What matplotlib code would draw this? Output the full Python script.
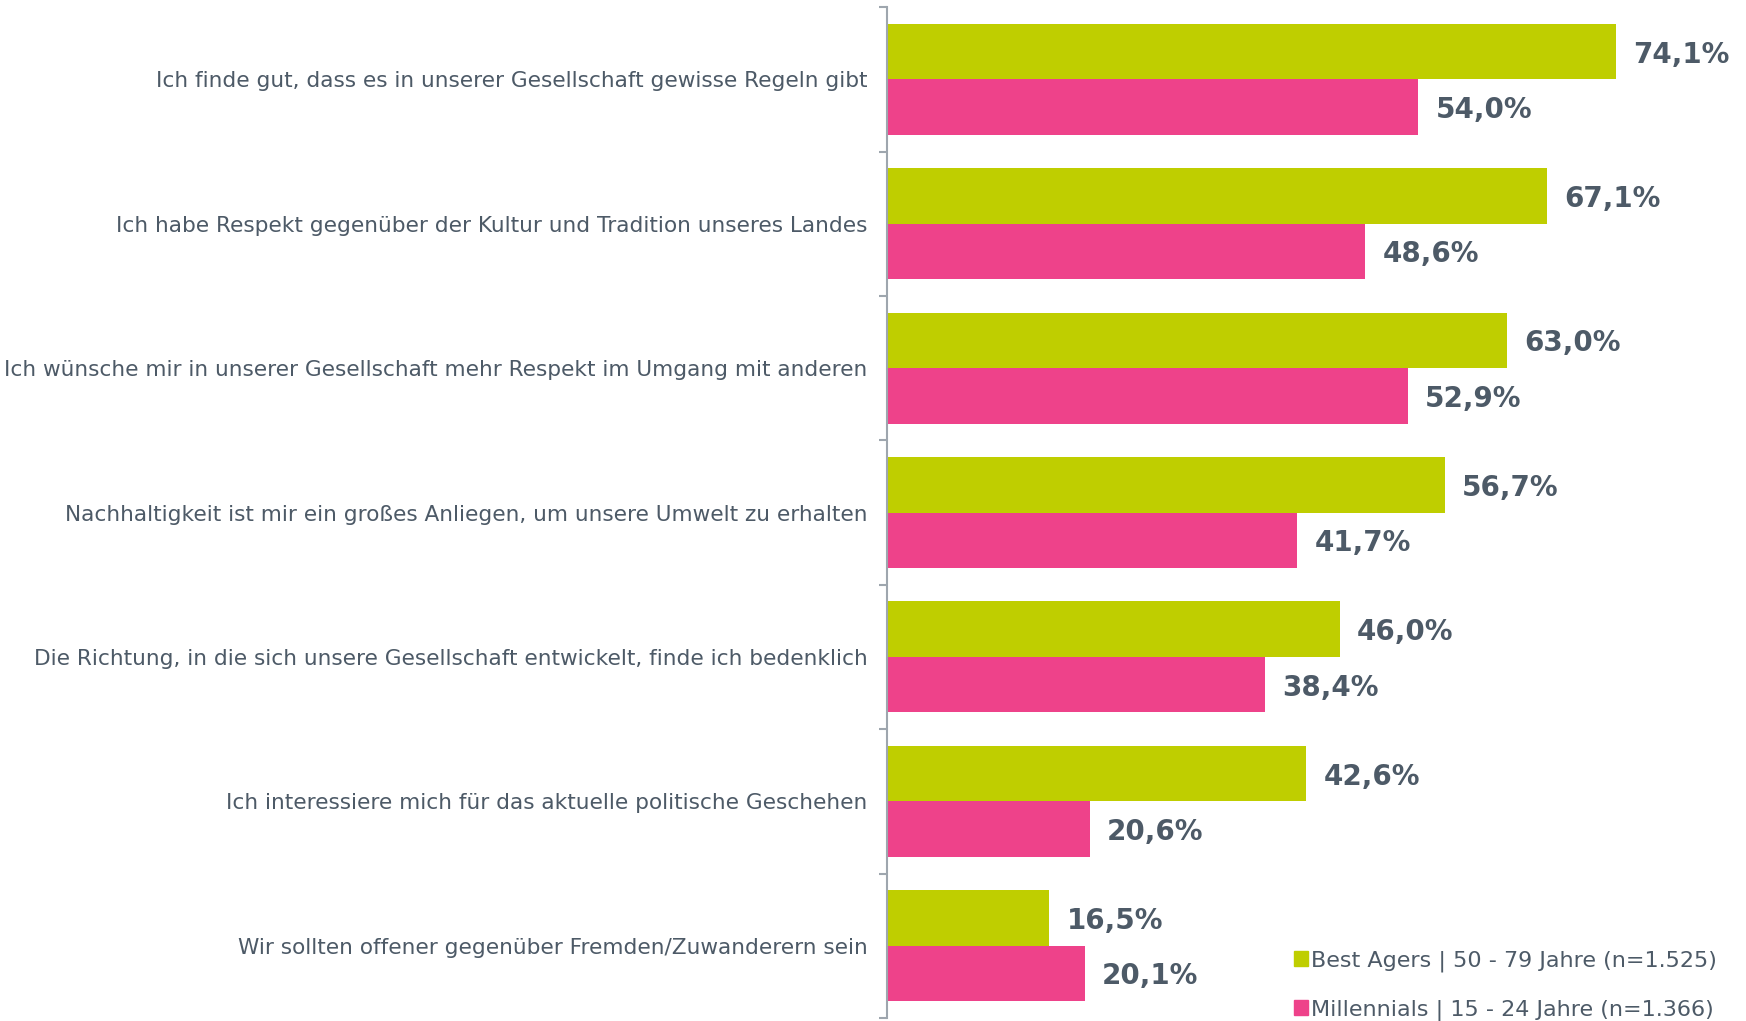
import numpy as np
import matplotlib
matplotlib.use("Agg")
import matplotlib.pyplot as plt
from matplotlib.patches import Patch

plt.rcParams['font.family'] = ['DejaVu Sans']

# Daten
kategorien = [
    "Ich finde gut, dass es in unserer Gesellschaft gewisse Regeln gibt",
    "Ich habe Respekt gegenüber der Kultur und Tradition unseres Landes",
    "Ich wünsche mir in unserer Gesellschaft mehr Respekt im Umgang mit anderen",
    "Nachhaltigkeit ist mir ein großes Anliegen, um unsere Umwelt zu erhalten",
    "Die Richtung, in die sich unsere Gesellschaft entwickelt, finde ich bedenklich",
    "Ich interessiere mich für das aktuelle politische Geschehen",
    "Wir sollten offener gegenüber Fremden/Zuwanderern sein",
]
best_agers = [74.1, 67.1, 63.0, 56.7, 46.0, 42.6, 16.5]
millennials = [54.0, 48.6, 52.9, 41.7, 38.4, 20.6, 20.1]
serien = ["Best Agers | 50 - 79 Jahre (n=1.525)",
          "Millennials | 15 - 24 Jahre (n=1.366)"]

GRUEN = "#bfce00"
PINK = "#ee428a"
TEXT = "#4d5a67"
ACHSE = "#9ea6ae"

fig = plt.figure(figsize=(17.46, 10.21), dpi=100)
ax = fig.add_axes([0.508, 0.003, 0.492, 0.990])

y = np.arange(len(kategorien))
h = 0.384

ax.barh(y - h / 2, best_agers, height=h, color=GRUEN)
ax.barh(y + h / 2, millennials, height=h, color=PINK)

def fmt(v):
    return f"{v:.1f}%".replace(".", ",")

for i in range(len(kategorien)):
    ax.text(best_agers[i] + 1.75, y[i] - h / 2, fmt(best_agers[i]), va="center_baseline",
            ha="left", fontsize=20, fontweight="bold", color=TEXT)
    ax.text(millennials[i] + 1.75, y[i] + h / 2, fmt(millennials[i]), va="center_baseline",
            ha="left", fontsize=20, fontweight="bold", color=TEXT)

ax.set_xlim(0, 87.3)
ax.set_ylim(len(kategorien) - 0.5, -0.5)

ax.set_yticks(y)
ax.set_yticklabels(kategorien, fontsize=15.55, color=TEXT)
ax.tick_params(axis="y", which="major", length=0, pad=14)
ax.set_yticks(np.arange(-0.5, len(kategorien)), minor=True)
ax.tick_params(axis="y", which="minor", length=6, width=1.5, color=ACHSE)
ax.set_xticks([])

for s in ["top", "right", "bottom"]:
    ax.spines[s].set_visible(False)
ax.spines["left"].set_color(ACHSE)
ax.spines["left"].set_linewidth(1.5)

handles = [Patch(color=GRUEN), Patch(color=PINK)]
leg = fig.legend(handles, serien, loc="lower right", bbox_to_anchor=(0.9834, 0.0),
                 bbox_transform=fig.transFigure, frameon=False, fontsize=16,
                 handlelength=0.62, handleheight=0.62, handletextpad=0.15,
                 labelspacing=1.25, borderaxespad=0, borderpad=0)
for t in leg.get_texts():
    t.set_color(TEXT)

fig.savefig("out.png", dpi=100)
